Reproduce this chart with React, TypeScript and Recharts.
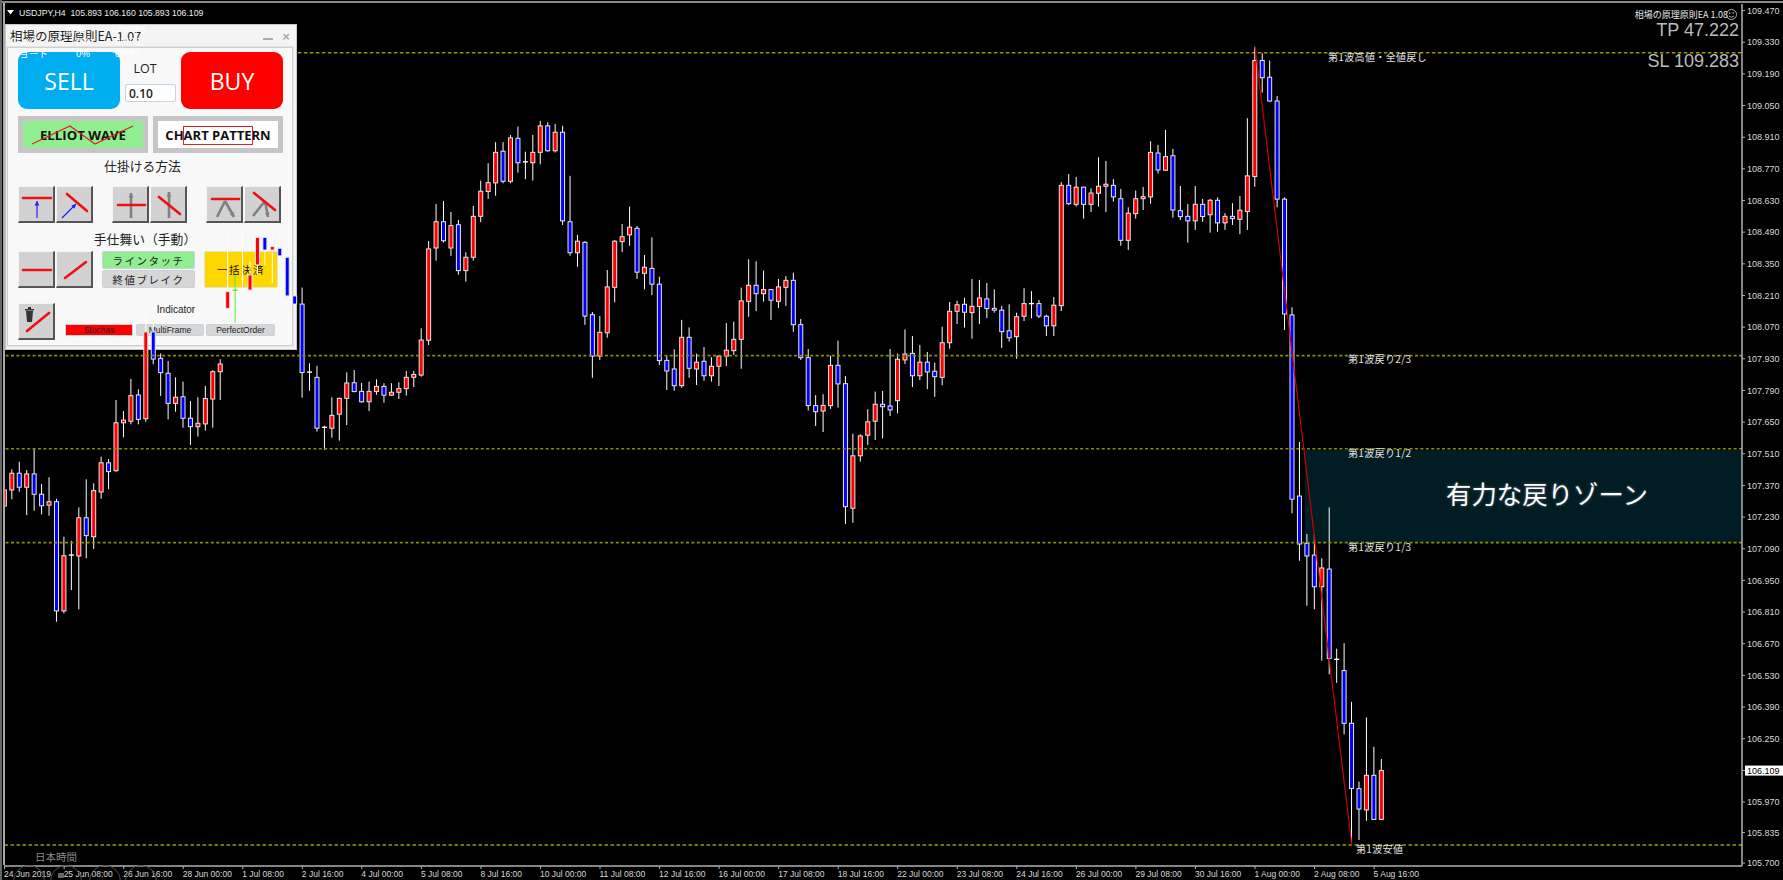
import React from "react";
import { ComposedChart, Bar, XAxis, YAxis, ReferenceLine, ReferenceArea } from "recharts";

const opens = [
  107.279, 107.350, 107.424, 107.362, 107.421, 107.331, 107.283, 107.298, 106.815, 107.059, 107.058, 107.227, 107.143, 107.341, 107.470, 107.435,
  107.647, 107.654, 107.770, 107.665, 108.049, 107.932, 107.866, 107.733, 107.762, 107.667, 107.630, 107.642, 107.752, 107.873, 108.153, 108.231,
  108.234, 108.234, 108.345, 108.467, 108.411, 108.419, 108.379, 108.208, 108.172, 107.869, 107.848, 107.625, 107.623, 107.685, 107.755, 107.824,
  107.786, 107.740, 107.785, 107.808, 107.769, 107.782, 107.798, 107.848, 107.858, 108.012, 108.420, 108.536, 108.420, 108.523, 108.320, 108.379,
  108.560, 108.670, 108.708, 108.848, 108.715, 108.905, 108.799, 108.797, 108.843, 108.960, 108.850, 108.932, 108.536, 108.399, 108.445, 108.125,
  107.942, 108.045, 108.246, 108.448, 108.478, 108.507, 108.308, 108.330, 108.260, 107.923, 107.885, 107.811, 108.025, 107.885, 107.919, 107.855,
  107.897, 107.942, 107.966, 108.016, 108.184, 108.255, 108.218, 108.236, 108.184, 108.246, 108.277, 108.081, 107.935, 107.723, 107.699, 107.723,
  107.901, 107.820, 107.269, 107.501, 107.592, 107.654, 107.729, 107.721, 107.745, 107.925, 107.954, 107.855, 107.915, 107.875, 107.848, 108.001,
  108.140, 108.171, 108.134, 108.161, 108.195, 108.153, 108.145, 108.054, 108.028, 108.118, 108.172, 108.174, 108.118, 108.076, 108.165, 108.697,
  108.613, 108.689, 108.613, 108.662, 108.693, 108.697, 108.638, 108.454, 108.572, 108.638, 108.646, 108.840, 108.764, 108.828, 108.585, 108.560,
  108.540, 108.613, 108.567, 108.631, 108.531, 108.560, 108.547, 108.581, 108.736, 109.249, 109.175, 109.070, 108.636, 108.124, 107.323, 107.114,
  107.062, 106.922, 107.000, 106.599, 106.551, 106.318, 106.029, 105.935, 106.088, 105.893,
];
const highs = [
  107.412, 107.441, 107.475, 107.438, 107.531, 107.376, 107.406, 107.311, 107.143, 107.125, 107.273, 107.397, 107.379, 107.497, 107.487, 107.748,
  107.699, 107.841, 107.795, 108.155, 108.093, 107.954, 107.920, 107.848, 107.829, 107.743, 107.760, 107.810, 107.880, 107.928, 108.500, 108.301,
  108.513, 108.358, 108.491, 108.500, 108.469, 108.464, 108.394, 108.217, 108.245, 107.910, 107.899, 107.634, 107.760, 107.758, 107.870, 107.880,
  107.824, 107.829, 107.839, 107.822, 107.822, 107.826, 107.876, 107.876, 108.065, 108.451, 108.615, 108.628, 108.579, 108.544, 108.401, 108.606,
  108.718, 108.795, 108.888, 108.888, 108.920, 108.957, 108.846, 108.920, 108.982, 108.976, 108.969, 108.960, 108.739, 108.478, 108.450, 108.137,
  108.119, 108.323, 108.455, 108.526, 108.603, 108.517, 108.389, 108.467, 108.293, 107.942, 107.972, 108.102, 108.069, 107.953, 107.982, 107.937,
  107.947, 108.088, 108.094, 108.245, 108.370, 108.361, 108.320, 108.239, 108.283, 108.296, 108.311, 108.106, 107.973, 107.769, 107.773, 107.944,
  108.010, 107.854, 107.599, 107.596, 107.707, 107.785, 107.788, 107.973, 107.953, 108.060, 108.031, 107.991, 107.960, 107.913, 108.072, 108.181,
  108.187, 108.200, 108.283, 108.279, 108.265, 108.237, 108.164, 108.171, 108.134, 108.242, 108.229, 108.190, 108.125, 108.203, 108.711, 108.747,
  108.734, 108.691, 108.684, 108.821, 108.805, 108.724, 108.681, 108.600, 108.674, 108.690, 108.892, 108.876, 108.942, 108.858, 108.694, 108.615,
  108.694, 108.637, 108.637, 108.644, 108.574, 108.618, 108.650, 108.994, 109.310, 109.281, 109.249, 109.092, 108.644, 108.158, 107.562, 107.155,
  107.151, 107.048, 107.273, 106.648, 106.672, 106.413, 106.060, 106.344, 106.214, 106.160,
];
const lows = [
  107.257, 107.309, 107.342, 107.239, 107.258, 107.242, 107.236, 106.767, 106.804, 106.907, 106.822, 107.048, 107.089, 107.311, 107.353, 107.431,
  107.583, 107.640, 107.640, 107.652, 107.906, 107.766, 107.662, 107.696, 107.625, 107.549, 107.586, 107.612, 107.625, 107.748, 108.137, 108.088,
  108.221, 108.208, 108.301, 108.345, 108.265, 108.332, 108.199, 108.164, 107.758, 107.789, 107.608, 107.527, 107.581, 107.568, 107.637, 107.782,
  107.736, 107.699, 107.771, 107.736, 107.766, 107.752, 107.767, 107.805, 107.851, 107.991, 108.364, 108.444, 108.385, 108.302, 108.271, 108.364,
  108.534, 108.637, 108.651, 108.706, 108.706, 108.753, 108.724, 108.718, 108.790, 108.846, 108.842, 108.522, 108.386, 108.337, 108.080, 107.846,
  107.925, 108.023, 108.180, 108.402, 108.430, 108.283, 108.237, 108.212, 107.903, 107.792, 107.789, 107.802, 107.846, 107.814, 107.833, 107.829,
  107.810, 107.898, 107.947, 107.886, 108.116, 108.141, 108.183, 108.102, 108.155, 108.164, 108.049, 107.925, 107.701, 107.633, 107.606, 107.709,
  107.714, 107.199, 107.205, 107.475, 107.549, 107.571, 107.578, 107.677, 107.689, 107.907, 107.805, 107.836, 107.796, 107.762, 107.813, 107.975,
  108.084, 108.068, 108.019, 108.084, 108.110, 108.134, 107.978, 108.006, 107.930, 108.097, 108.109, 108.110, 108.031, 108.031, 108.141, 108.610,
  108.603, 108.550, 108.579, 108.603, 108.579, 108.625, 108.430, 108.411, 108.550, 108.588, 108.616, 108.749, 108.761, 108.554, 108.544, 108.444,
  108.500, 108.536, 108.488, 108.492, 108.500, 108.522, 108.481, 108.500, 108.691, 109.107, 109.067, 108.600, 108.057, 107.247, 107.037, 106.838,
  106.822, 106.595, 106.535, 106.497, 106.269, 105.780, 105.802, 105.887, 105.893, 105.893,
];
const closes = [
  107.350, 107.424, 107.362, 107.421, 107.331, 107.280, 107.298, 106.815, 107.059, 107.062, 107.227, 107.148, 107.347, 107.470, 107.431, 107.647,
  107.659, 107.767, 107.662, 108.049, 107.929, 107.869, 107.733, 107.760, 107.667, 107.630, 107.645, 107.754, 107.873, 107.907, 108.227, 108.233,
  108.236, 108.301, 108.467, 108.411, 108.427, 108.385, 108.208, 108.172, 107.869, 107.871, 107.623, 107.627, 107.680, 107.755, 107.823, 107.785,
  107.740, 107.786, 107.808, 107.769, 107.782, 107.798, 107.848, 107.861, 108.013, 108.416, 108.536, 108.452, 108.519, 108.320, 108.379, 108.560,
  108.671, 108.709, 108.843, 108.715, 108.907, 108.797, 108.801, 108.843, 108.960, 108.850, 108.932, 108.540, 108.399, 108.450, 108.119, 107.942,
  108.047, 108.248, 108.450, 108.470, 108.512, 108.313, 108.335, 108.260, 107.922, 107.876, 107.811, 108.025, 107.888, 107.915, 107.855, 107.897,
  107.942, 107.968, 108.016, 108.186, 108.255, 108.218, 108.236, 108.189, 108.248, 108.277, 108.081, 107.935, 107.723, 107.696, 107.724, 107.901,
  107.819, 107.276, 107.501, 107.589, 107.651, 107.729, 107.718, 107.704, 107.928, 107.951, 107.855, 107.915, 107.872, 107.851, 108.001, 108.140,
  108.169, 108.136, 108.162, 108.199, 108.152, 108.145, 108.050, 108.023, 108.116, 108.174, 108.174, 108.119, 108.076, 108.167, 108.697, 108.616,
  108.689, 108.613, 108.663, 108.693, 108.702, 108.646, 108.454, 108.574, 108.638, 108.647, 108.843, 108.765, 108.824, 108.588, 108.559, 108.540,
  108.613, 108.559, 108.631, 108.531, 108.560, 108.550, 108.587, 108.739, 109.249, 109.173, 109.070, 108.636, 108.128, 107.309, 107.111, 107.058,
  106.922, 107.005, 106.605, 106.601, 106.318, 106.030, 105.939, 106.088, 105.893, 106.109,
];

// one label every 8 H4 bars
const timeLabels = [
  "24 Jun 2019", "25 Jun 08:00", "26 Jun 16:00", "28 Jun 00:00", "1 Jul 08:00", "2 Jul 16:00", "4 Jul 00:00", "5 Jul 08:00",
  "8 Jul 16:00", "10 Jul 00:00", "11 Jul 08:00", "12 Jul 16:00", "16 Jul 00:00", "17 Jul 08:00", "18 Jul 16:00", "22 Jul 00:00",
  "23 Jul 08:00", "24 Jul 16:00", "26 Jul 00:00", "29 Jul 08:00", "30 Jul 16:00", "1 Aug 00:00", "2 Aug 08:00", "5 Aug 16:00",
];
const timeTicks = timeLabels.map((_, i) => i * 8);

const priceTicks = [
  109.47, 109.33, 109.19, 109.05, 108.91, 108.77, 108.63, 108.49, 108.35, 108.21, 108.07, 107.93, 107.79, 107.65,
  107.51, 107.37, 107.23, 107.09, 106.95, 106.81, 106.67, 106.53, 106.39, 106.25, 106.109, 105.97, 105.835, 105.7,
];
const CURRENT_PRICE = 106.109;

const waveHigh = 109.283;
const waveLow = 105.78;
const retraceLevels = [107.944, 107.532, 107.117];
const zoneBottom = 107.117;
const zoneTop = 107.527;
const waveLine = [
  { x: 168, y: 109.31 },
  { x: 181, y: 105.78 },
];

const candles = opens.map((open, i) => ({
  idx: i,
  open,
  high: highs[i],
  low: lows[i],
  close: closes[i],
}));

const GREEN_WICK_BAR = 31;
const UI_FONT = '"Liberation Sans", Arial, sans-serif';
const JP_FONT = '"Noto Sans CJK JP", "Noto Sans", sans-serif';

const Candle = (props: any) => {
  const { x, y, width, height, payload } = props;
  const { open, high, low, close, idx } = payload;
  const cx = x + width / 2;
  const pxPerPrice = height / (high - low);
  const top = y + (high - Math.max(open, close)) * pxPerPrice;
  const bottom = y + (high - Math.min(open, close)) * pxPerPrice;
  const wick = idx === GREEN_WICK_BAR ? "#55ee33" : "#ffffff";
  const isDoji = bottom - top < 1.5;
  return (
    <g>
      <line x1={cx} x2={cx} y1={y} y2={y + height} stroke={wick} strokeWidth={1} />
      {isDoji ? (
        <line x1={cx - 2.5} x2={cx + 2.5} y1={top} y2={top} stroke={wick} strokeWidth={1.4} />
      ) : (
        <rect
          x={cx - 2}
          y={top}
          width={4}
          height={bottom - top}
          fill={close > open ? "#ff0000" : "#0000ff"}
          stroke="#e8e8e8"
          strokeWidth={1}
        />
      )}
    </g>
  );
};

const TimeTick = (props: any) => {
  const { x, y, payload } = props;
  return (
    <text x={x - 0.5} y={y + 8} fill="#d8d8d8" fontSize={8.5} fontFamily={UI_FONT} textAnchor="start">
      {timeLabels[payload.value / 8]}
    </text>
  );
};

const PriceTick = (props: any) => {
  const { x, y, payload } = props;
  const isCurrent = payload.value === CURRENT_PRICE;
  return (
    <g>
      {isCurrent && <rect x={x - 1} y={y - 5} width={39} height={10} fill="#ffffff" />}
      <text
        x={x + 1}
        y={y + 3.2}
        fill={isCurrent ? "#000000" : "#d8d8d8"}
        fontSize={9}
        fontFamily={UI_FONT}
        textAnchor="start"
      >
        {payload.value.toFixed(3)}
      </text>
    </g>
  );
};

const abs = (left: number, top: number, width: number, height: number): React.CSSProperties => ({
  position: "absolute",
  left,
  top,
  width,
  height,
  boxSizing: "border-box",
});

const textBox = (size: number, color = "#000", font = JP_FONT): React.CSSProperties => ({
  display: "flex",
  alignItems: "center",
  justifyContent: "center",
  fontSize: size,
  color,
  fontFamily: font,
  whiteSpace: "nowrap",
});

const Btn = ({ left, top, children }: { left: number; top: number; children: React.ReactNode }) => (
  <div
    style={{
      ...abs(left, top, 37, 37),
      background: "#d2d2d2",
      borderTop: "1px solid #f4f4f4",
      borderLeft: "1px solid #f4f4f4",
      borderRight: "2px solid #555",
      borderBottom: "2px solid #555",
    }}
  >
    <svg width={34} height={34} style={{ position: "absolute", left: 0, top: 0 }}>
      {children}
    </svg>
  </div>
);

const RedLine = ({ d }: { d: number[] }) => (
  <line x1={d[0]} y1={d[1]} x2={d[2]} y2={d[3]} stroke="#f01010" strokeWidth={2.6} strokeLinecap="round" />
);

const Arrow = ({ d, color }: { d: number[]; color: string }) => {
  const ang = Math.atan2(d[3] - d[1], d[2] - d[0]);
  const hx = (a: number) => d[2] - 5 * Math.cos(ang + a);
  const hy = (a: number) => d[3] - 5 * Math.sin(ang + a);
  const heavy = color !== "#2020ff";
  return (
    <g>
      <line x1={d[0]} y1={d[1]} x2={d[2]} y2={d[3]} stroke={color} strokeWidth={heavy ? 2.6 : 1.2} />
      <path d={`M${hx(0.5)} ${hy(0.5)}L${d[2]} ${d[3]}L${hx(-0.5)} ${hy(-0.5)}Z`} fill={color} />
    </g>
  );
};

const GRAY = "#808080";
const BLUE = "#2020ff";

const ghostText = (left: number, top: number, text: string) => (
  <div style={{ ...abs(left, top, 60, 12), ...textBox(9.5, "#fff"), justifyContent: "flex-start" }}>{text}</div>
);

const Panel = () => (
  <div style={{ ...abs(5, 24, 292, 326), background: "#f4f4f4", border: "1px solid #c8c8c8" }}>
    {/* all children use page coordinates through this wrapper */}
    <div style={{ position: "absolute", left: -6, top: -25, width: 300, height: 330 }}>
      <div style={{ ...abs(7, 47, 286, 299), border: "1px solid #cfcfcf", outline: "1px solid #e4e4e4", background: "#f8f8f8" }} />
      <div style={{ ...abs(10, 26, 130, 18), ...textBox(12.5, "#222"), justifyContent: "flex-start" }}>相場の原理原則EA-1.07</div>
      <div style={{ ...abs(263, 38, 10, 2), background: "#aaa" }} />
      <div style={{ ...abs(280, 29, 12, 14), ...textBox(13, "#aaa", UI_FONT), fontWeight: 700 }}>×</div>

      <div style={{ ...abs(18, 52, 102, 57), background: "#00aeef", borderRadius: 9, ...textBox(23, "#fff", '"Open Sans", sans-serif') }}>SELL</div>
      <div style={{ ...abs(181, 52, 102, 57), background: "#ff0000", borderRadius: 9, ...textBox(23, "#fff", '"Open Sans", sans-serif') }}>BUY</div>
      <div style={{ ...abs(130, 59, 30, 18), ...textBox(12.5, "#222", '"Open Sans", sans-serif') }}>LOT</div>
      <div
        style={{
          ...abs(125, 84, 51, 18),
          background: "#fff",
          border: "1px solid #c4d4e0",
          borderRadius: 2,
          paddingLeft: 3,
          ...textBox(12, "#222", '"Open Sans", sans-serif'),
          justifyContent: "flex-start",
          fontWeight: 600,
        }}
      >
        0.10
      </div>

      <div style={{ ...abs(18, 116, 130, 37), background: "#c6c6c6" }} />
      <div style={{ ...abs(23, 121, 120, 27), background: "#90ee90", ...textBox(13.2, "#111", '"Open Sans", sans-serif'), fontWeight: 700 }}>ELLIOT WAVE</div>
      <svg style={abs(18, 116, 130, 37)}>
        <polyline points="14,28 52,10 77,28 115,10" fill="none" stroke="#e02020" strokeWidth={1.2} />
      </svg>
      <div style={{ ...abs(153, 116, 130, 37), background: "#c6c6c6" }} />
      <div style={{ ...abs(158, 121, 120, 27), background: "#fff", ...textBox(13, "#111", '"Open Sans", sans-serif'), fontWeight: 700 }}>CHART PATTERN</div>
      <div style={{ ...abs(183, 126, 70, 19), border: "1.3px solid #e02020" }} />

      <div style={{ ...abs(90, 155, 105, 20), ...textBox(12.8, "#222") }}>仕掛ける方法</div>
      <Btn left={18} top={186}>
        <RedLine d={[4, 11, 32, 11]} />
        <Arrow d={[18, 31, 18, 14]} color={BLUE} />
      </Btn>
      <Btn left={56} top={186}>
        <RedLine d={[10, 7, 30, 24]} />
        <Arrow d={[5, 31, 19, 17]} color={BLUE} />
      </Btn>
      <Btn left={112} top={186}>
        <Arrow d={[18, 31, 18, 6]} color={GRAY} />
        <RedLine d={[5, 18, 32, 18]} />
      </Btn>
      <Btn left={150} top={186}>
        <Arrow d={[18, 31, 18, 5]} color={GRAY} />
        <RedLine d={[8, 10, 29, 27]} />
      </Btn>
      <Btn left={206} top={186}>
        <line x1={10} y1={30} x2={18} y2={14} stroke={GRAY} strokeWidth={2.6} />
        <Arrow d={[18, 14, 27, 30]} color={GRAY} />
        <RedLine d={[5, 12, 32, 12]} />
      </Btn>
      <Btn left={244} top={186}>
        <line x1={8} y1={29} x2={20} y2={14} stroke={GRAY} strokeWidth={2.6} />
        <Arrow d={[20, 14, 23, 30]} color={GRAY} />
        <RedLine d={[9, 6, 30, 23]} />
      </Btn>

      <div style={{ ...abs(90, 228, 110, 20), ...textBox(12.8, "#222") }}>手仕舞い（手動）</div>
      <Btn left={18} top={251}>
        <RedLine d={[4, 18, 32, 18]} />
      </Btn>
      <Btn left={56} top={251}>
        <RedLine d={[8, 26, 29, 10]} />
      </Btn>
      <div style={{ ...abs(102, 251, 93, 18), background: "#90ee90", border: "1px solid #c8d4dc", borderRadius: 2, letterSpacing: 1.5, ...textBox(10.5, "#222") }}>ラインタッチ</div>
      <div style={{ ...abs(102, 270, 93, 18), background: "#d6d6d6", border: "1px solid #c8d4dc", borderRadius: 2, letterSpacing: 1.5, ...textBox(10.5, "#222") }}>終値ブレイク</div>
      <div style={{ ...abs(204, 251, 74, 37), background: "#ffd700", border: "1px solid #e4e4c8", borderRadius: 2, letterSpacing: 1.5, ...textBox(10.5, "#111") }}>一括決済</div>

      <Btn left={18} top={303}>
        <RedLine d={[8, 27, 30, 9]} />
        <path d="M7 7h7l-1 11h-5zM6 5h9v1.6H6zM9 3h3v2H9z" fill="#333" />
      </Btn>
      <div style={{ ...abs(150, 301, 52, 16), ...textBox(10, "#222", UI_FONT) }}>Indicator</div>
      <div style={{ ...abs(65, 324, 68, 12), background: "#ff0000", border: "1px solid #c8d4dc", ...textBox(8.5, "#222", UI_FONT) }}>Stochas</div>
      <div style={{ ...abs(136, 324, 68, 12), background: "#d6d6d6", border: "1px solid #c8d4dc", borderRadius: 2, ...textBox(8.5, "#222", UI_FONT) }}>MultiFrame</div>
      <div style={{ ...abs(206, 324, 69, 12), background: "#d6d6d6", border: "1px solid #c8d4dc", borderRadius: 2, ...textBox(8.5, "#222", UI_FONT) }}>PerfectOrder</div>

      {/* white stats text of the EA, almost lost on the light panel */}
      {ghostText(66, 23, "勝率")}
      {ghostText(107, 23, "平均PIPS")}
      {ghostText(10, 35, "ロング")}
      {ghostText(76, 35, "0%")}
      {ghostText(115, 35, "0PIPS")}
      {ghostText(10, 47, "ショート")}
      {ghostText(76, 47, "0%")}
      {ghostText(115, 47, "0PIPS")}
    </div>
  </div>
);

const levelLabel = (left: number, top: number, text: string) => (
  <div style={{ ...abs(left, top, 130, 14), ...textBox(10, "#e4e4e4"), justifyContent: "flex-start", letterSpacing: 0.35 }}>{text}</div>
);

const App: React.FC = () => {
  return (
    <div style={{ position: "absolute", left: 0, top: 0, width: 1783, height: 880, background: "#000", overflow: "hidden" }}>
      <Panel />
      <div style={{ position: "absolute", left: 0, top: 0 }}>
        <ComposedChart
          width={1783}
          height={880}
          data={candles}
          margin={{ top: 4, right: 0, bottom: 0, left: 4 }}
          style={{ background: "transparent" }}
        >
          <XAxis
            dataKey="idx"
            type="number"
            domain={[-0.08, 233.43]}
            ticks={timeTicks}
            interval={0}
            height={14}
            tick={<TimeTick />}
            tickSize={3}
            tickMargin={0}
            axisLine={{ stroke: "#b0b0b0", strokeWidth: 1.5 }}
            tickLine={{ stroke: "#b0b0b0" }}
            allowDataOverflow
          />
          <YAxis
            orientation="right"
            type="number"
            domain={[105.687, 109.499]}
            ticks={priceTicks}
            interval={0}
            width={41}
            tick={<PriceTick />}
            tickSize={3}
            tickMargin={1}
            axisLine={{ stroke: "#b0b0b0", strokeWidth: 1.5 }}
            tickLine={{ stroke: "#b0b0b0" }}
            allowDataOverflow
          />
          <ReferenceArea
            x1={174.7}
            x2={233.43}
            y1={zoneBottom}
            y2={zoneTop}
            fill="#021c24"
            fillOpacity={1}
            stroke="none"
            ifOverflow="visible"
          />
          <ReferenceLine
            segment={[
              { x: 39.4, y: waveHigh },
              { x: 233.43, y: waveHigh },
            ]}
            stroke="#e8e800"
            strokeDasharray="3.5 2.5"
            ifOverflow="visible"
          />
          <ReferenceLine y={waveLow} stroke="#e8e800" strokeDasharray="3.5 2.5" />
          {retraceLevels.map((level) => (
            <ReferenceLine key={level} y={level} stroke="#8c8c00" strokeWidth={1.6} strokeDasharray="3 2.4" />
          ))}
          <ReferenceLine segment={waveLine} stroke="#c80000" strokeWidth={1.2} ifOverflow="visible" />
          <Bar
            dataKey={(d: any) => [d.low, d.high]}
            barSize={5}
            shape={<Candle />}
            isAnimationActive={false}
          />
        </ComposedChart>
      </div>

      {/* terminal frame */}
      <div style={{ ...abs(0, 1, 1783, 2), background: "#8a8a8a" }} />
      <div style={{ ...abs(0, 0, 2, 880), background: "#666" }} />
      <div style={{ ...abs(3, 3, 1.5, 862), background: "#a8a8a8" }} />

      {/* chart header */}
      <svg style={abs(6, 9, 10, 8)}>
        <path d="M1 1h7l-3.5 4.5z" fill="#fff" />
      </svg>
      <div style={{ ...abs(19, 6, 200, 13), ...textBox(8.7, "#eee", UI_FONT), justifyContent: "flex-start", whiteSpace: "pre" }}>
        USDJPY,H4  105.893 106.160 105.893 106.109
      </div>

      {/* EA labels at top right */}
      <div style={{ ...abs(1620, 7, 108, 14), ...textBox(9, "#e8e8e8"), justifyContent: "flex-end" }}>相場の原理原則EA 1.08</div>
      <svg style={abs(1725, 8, 13, 13)}>
        <circle cx={6.5} cy={6.5} r={5} fill="none" stroke="#b0b0b0" strokeWidth={1} />
        <circle cx={4.7} cy={5} r={0.8} fill="#c0c0c0" />
        <circle cx={8.3} cy={5} r={0.8} fill="#c0c0c0" />
        <path d="M4 8q2.5 2.5 5 0" fill="none" stroke="#c0c0c0" strokeWidth={0.9} />
      </svg>
      <div style={{ ...abs(1620, 19, 119, 22), ...textBox(18, "#bcbcbc", UI_FONT), justifyContent: "flex-end" }}>TP 47.222</div>
      <div style={{ ...abs(1620, 50, 119, 22), ...textBox(18, "#bcbcbc", UI_FONT), justifyContent: "flex-end" }}>SL 109.283</div>

      {/* wave level labels */}
      {levelLabel(1328, 49, "第1波高値・全値戻し")}
      {levelLabel(1348, 351, "第1波戻り2/3")}
      {levelLabel(1348, 445, "第1波戻り1/2")}
      {levelLabel(1348, 539, "第1波戻り1/3")}
      {levelLabel(1356, 841, "第1波安値")}

      <div
        style={{
          ...abs(1437, 470, 220, 46),
          ...textBox(25.4, "#ffffff"),
          textShadow: "0 0 3px rgba(255,255,255,0.35)",
        }}
      >
        有力な戻りゾーン
      </div>

      <div style={{ ...abs(35, 849, 60, 14), ...textBox(10.5, "#8a8a8a"), justifyContent: "flex-start" }}>日本時間</div>

      {/* clipped round buttons under the window */}
      <svg style={abs(0, 860, 180, 20)}>
        {[29, 66, 105, 141].map((cx) => (
          <circle key={cx} cx={cx} cy={21} r={15.5} fill="none" stroke="#4a4a4a" strokeWidth={1} />
        ))}
        <rect x={58} y={13} width={6} height={5} fill="#666" />
      </svg>
    </div>
  );
};

export default App;
